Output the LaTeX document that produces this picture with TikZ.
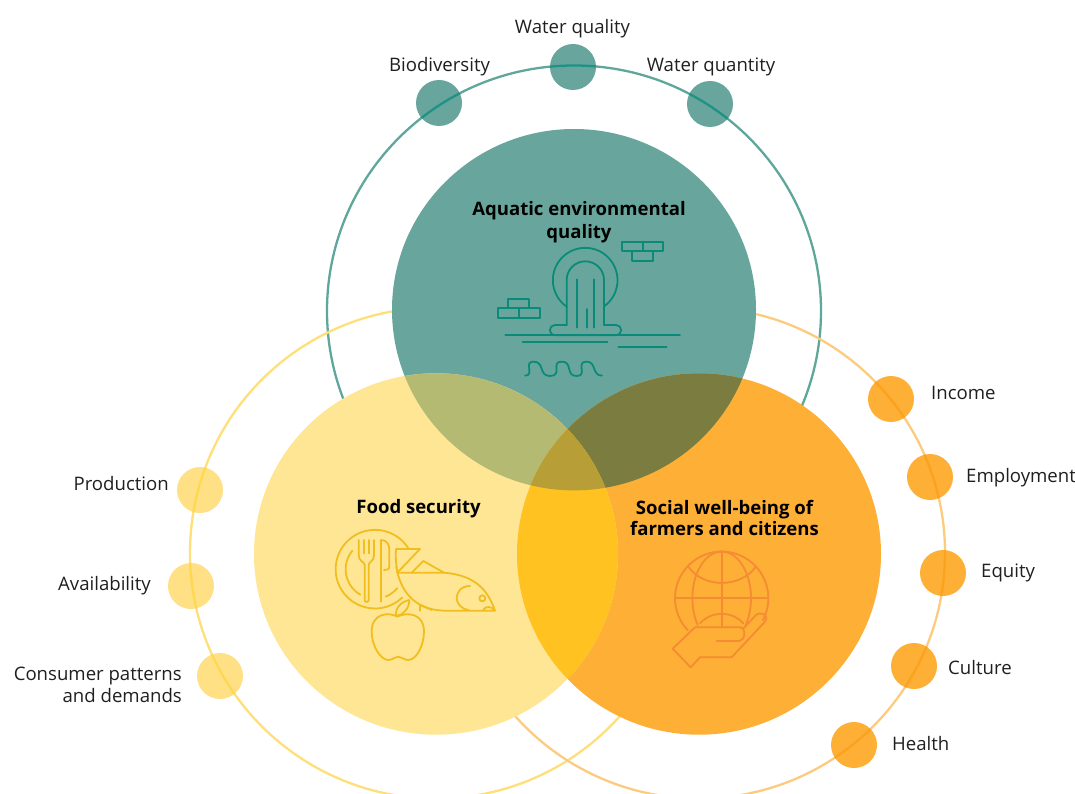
\documentclass[tikz,border=0pt]{standalone}
\usepackage{fontspec}
\setmainfont{Open Sans}
\definecolor{teal1}{HTML}{68A69D}
\definecolor{yel1}{HTML}{FFE694}
\definecolor{yeld}{HTML}{FFE084}
\definecolor{org1}{HTML}{FDAF36}
\definecolor{ty}{HTML}{B5BA72}
\definecolor{to}{HTML}{7A7C40}
\definecolor{yo}{HTML}{FFC220}
\definecolor{tyo}{HTML}{B79E36}
\definecolor{tealic}{HTML}{0A8A78}
\definecolor{yelic}{HTML}{F0BE1E}
\definecolor{orgic}{HTML}{F58B33}
\definecolor{yelring}{HTML}{FFDF7A}
\definecolor{orgring}{HTML}{FDCB80}
\definecolor{tealring}{HTML}{5FA69B}
\definecolor{tealin}{HTML}{1E9285}
\definecolor{yelin}{HTML}{FFD84F}
\definecolor{orgin}{HTML}{FBA21F}
\tikzset{
 lab/.style={font=\fontsize{18.6}{22}\selectfont,text=black!88,inner sep=0pt,align=center},
 head/.style={font=\fontsize{18.55}{23}\selectfont\bfseries,text=black,inner sep=0pt,align=center},
 tdot/.style={circle,fill=teal1,minimum size=46pt,inner sep=0pt},
 ydot/.style={circle,fill=yeld,minimum size=46pt,inner sep=0pt},
 odot/.style={circle,fill=org1,minimum size=46pt,inner sep=0pt},
 ring/.style={line width=2.3pt},
 ic/.style={line width=1.8pt,line cap=round,line join=round},
}
\newcommand{\discT}{(574,309.7) ellipse [x radius=182,y radius=180.7]}
\newcommand{\discY}{(436,554) ellipse [x radius=182,y radius=180.7]}
\newcommand{\discO}{(699,554) ellipse [x radius=182,y radius=180.7]}
\newcommand{\ringT}{(574,311) ellipse [x radius=247,y radius=245.5]}
\newcommand{\ringY}{(436,553) ellipse [x radius=246,y radius=245.5]}
\newcommand{\ringO}{(699,553) ellipse [x radius=246,y radius=245.5]}
\begin{document}
\begin{tikzpicture}[x=1pt,y=-1pt]
\useasboundingbox (0,0) rectangle (1075,794);
\begin{scope}
\clip (0,0) rectangle (1075,794);
% rings
\draw[ring,tealring] \ringT;
\draw[ring,yelring] \ringY;
\draw[ring,orgring] \ringO;
% big discs
\fill[teal1] \discT;
\fill[org1] \discO;
\fill[yel1] \discY;
\begin{scope}\clip \discT; \fill[ty] \discY; \fill[to] \discO;\end{scope}
\begin{scope}\clip \discY; \fill[yo] \discO;\end{scope}
\begin{scope}\clip \discT; \clip \discY; \fill[tyo] \discO;\end{scope}
\end{scope}
% small discs
\node[tdot] (d1) at (573,67) {};
\node[tdot] (d2) at (439,103) {};
\node[tdot] (d3) at (710,104) {};
\node[ydot] (d4) at (200,490) {};
\node[ydot] (d5) at (191,586) {};
\node[ydot] (d6) at (220,676) {};
\node[odot] (d7) at (891,399) {};
\node[odot] (d8) at (930,477) {};
\node[odot] (d9) at (943,573) {};
\node[odot] (d10) at (914,666) {};
\node[odot] (d11) at (854,745) {};
% rings seen through the small discs
\begin{scope}\clip (573,67) circle (23) (439,103) circle (23) (710,104) circle (23);
\draw[ring,tealin] \ringT;\end{scope}
\begin{scope}\clip (200,490) circle (23) (191,586) circle (23) (220,676) circle (23);
\draw[ring,yelin] \ringY;\end{scope}
\begin{scope}\clip (891,399) circle (23) (930,477) circle (23) (943,573) circle (23) (914,666) circle (23) (854,745) circle (23);
\draw[ring,orgin] \ringO;\end{scope}
% labels
\node[lab] (l1) at (572.5,29) {Water quality};
\node[lab] (l2) at (439.5,67) {Biodiversity};
\node[lab] (l3) at (711,67) {Water quantity};
\node[lab,anchor=east] (l4) at (169,484) {Production};
\node[lab,anchor=east] (l5) at (151,586) {Availability};
\node[lab,anchor=east,align=right] (l6) at (182,685) {Consumer patterns\\and demands};
\node[lab,anchor=west] (l7) at (931,393) {Income};
\node[lab,anchor=west] (l8) at (966,478) {Employment};
\node[lab,anchor=west] (l9) at (981,573) {Equity};
\node[lab,anchor=west] (l10) at (948,668) {Culture};
\node[lab,anchor=west] (l11) at (892,744) {Health};
\node[head] (h1) at (579,222) {Aquatic environmental\\quality};
\node[head] (h2) at (418.5,509) {Food security};
\node[head,font=\fontsize{18.55}{21.5}\selectfont\bfseries] (h3) at (724.5,518) {Social well-being of\\farmers and citizens};
% teal icon
\begin{scope}[shift={(470,190)},x=.3333pt,y=-.3333pt,ic,tealic]
\draw (456,155) rectangle (518,184) (518,155) rectangle (580,184) (487,184) rectangle (549,212);
\draw (115,326) rectangle (178,354) (84,354) rectangle (147,383) (147,354) rectangle (209,383);
\draw (290,350) arc[start angle=125,end angle=415,radius=97];
\draw (290,405) -- (290,270) arc[start angle=180,end angle=360,radius=56] -- (402,405);
\draw (290,405) -- (255,405) arc[start angle=270,end angle=90,radius=15.5] -- (438,436) arc[start angle=90,end angle=-90,radius=15.5] -- (402,405);
\draw (320,268) -- (320,413) (372,268) -- (372,413) (350,357) -- (350,413);
\draw (106,436) -- (630,436) (158,456) -- (412,456) (445,470) -- (590,470);
\draw (165,557) .. controls (195,557) and (160,515) .. (190,515) .. controls (225,515) and (205,558) .. (240,558) .. controls (280,558) and (240,515) .. (275,515) .. controls (310,515) and (285,558) .. (320,558) .. controls (355,558) and (315,515) .. (350,515) .. controls (380,515) and (365,557) .. (396,557);
\end{scope}
% food icon
\begin{scope}[shift={(320,520)},x=.3333pt,y=-.3333pt,ic,yelic]
\draw (265,85) arc[start angle=-32,end angle=-314,radius=118];
\draw (97,92) arc[start angle=219.5,end angle=120,radius=88];
\draw (197,230) arc[start angle=68,end angle=40,radius=88];
\draw (116,60) -- (116,105) .. controls (116,125) and (134,125) .. (134,135) -- (134,240) .. controls (134,248) and (146,248) .. (146,240) -- (146,135) .. controls (146,125) and (162,125) .. (162,105) -- (162,60);
\draw (131,60) -- (131,100) (147,60) -- (147,100);
\draw (183,245) -- (183,60) .. controls (200,60) and (208,72) .. (208,90) -- (208,138) .. controls (208,150) and (200,150) .. (192,150);
\draw (228,87) -- (300,87) -- (232,158) .. controls (228,130) and (226,110) .. (228,87);
\draw (229,140) .. controls (240,210) and (280,268) .. (370,272) -- (525,272) .. controls (505,215) and (470,165) .. (370,158) -- (232,158);
\draw (275,158) -- (310,123) -- (372,158);
\draw (450,198) .. controls (420,198) and (410,220) .. (410,235) .. controls (410,250) and (425,268) .. (445,270);
\draw (487,235) circle (9);
\draw (490,270) .. controls (495,258) and (515,258) .. (522,270);
\draw (300,272) -- (300,255) -- (335,270);
\draw (232,290) .. controls (205,275) and (155,280) .. (155,335) .. controls (155,375) and (180,420) .. (205,420) .. controls (220,420) and (222,410) .. (234,410) .. controls (246,410) and (250,420) .. (265,420) .. controls (290,420) and (312,375) .. (312,335) .. controls (312,280) and (262,275) .. (232,290);
\draw (228,288) .. controls (225,262) and (245,245) .. (268,240) .. controls (268,265) and (250,285) .. (228,288);
\end{scope}
% globe icon
\begin{scope}[shift={(660,540)},x=.3333pt,y=-.3333pt,ic,orgic]
\draw (83.5,271) arc[start angle=136.5,end angle=388,radius=140];
\draw (185,35) -- (185,262) (45,175) -- (325,175);
\draw (113,255) arc[start angle=145,end angle=395,x radius=88,y radius=140];
\draw (85,80) .. controls (130,145) and (240,145) .. (288,80);
\draw (120,250) .. controls (155,212) and (215,212) .. (250,250);
\draw (38,326) -- (105,262) -- (240,262) .. controls (258,262) and (258,303) .. (235,303) -- (170,303);
\draw (38,326) -- (92,382) -- (120,352) -- (215,352) -- (315,245) .. controls (330,225) and (300,210) .. (285,228) -- (248,268);
\end{scope}
\end{tikzpicture}
\end{document}
